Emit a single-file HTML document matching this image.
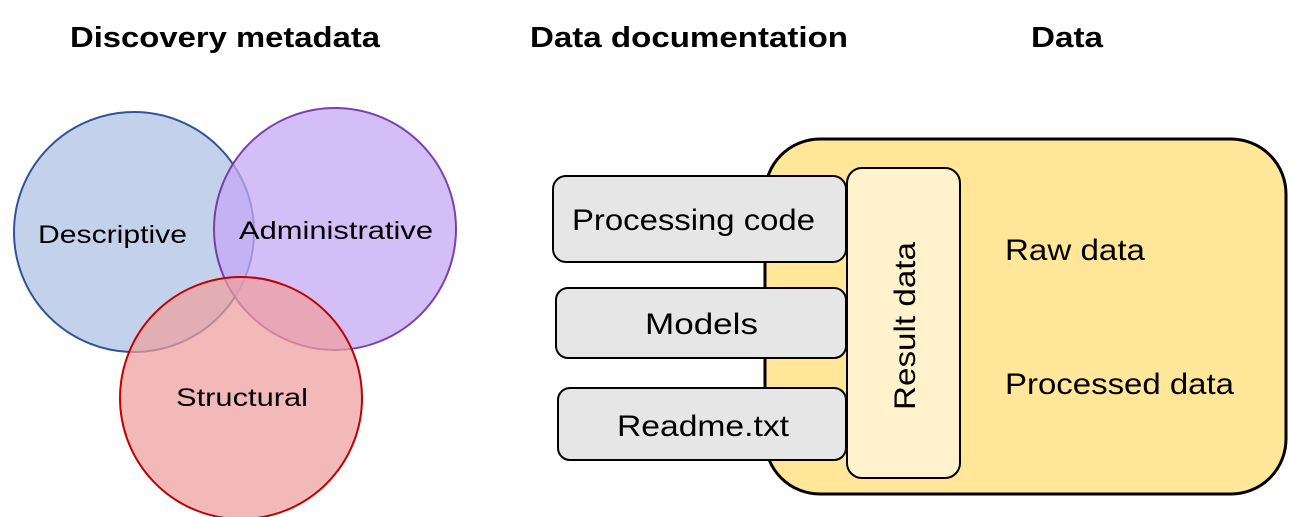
<!DOCTYPE html>
<html><head><style>html,body{margin:0;padding:0;background:#fff;width:1289px;height:517px;overflow:hidden}</style></head>
<body>
<svg width="1289" height="517" viewBox="0 0 1289 517" xmlns="http://www.w3.org/2000/svg" font-family="Liberation Sans, sans-serif">
<text x="70" y="47" font-size="29" font-weight="bold" textLength="310" lengthAdjust="spacingAndGlyphs">Discovery metadata</text>
<text x="530" y="47" font-size="29" font-weight="bold" textLength="318" lengthAdjust="spacingAndGlyphs">Data documentation</text>
<text x="1031" y="47" font-size="29" font-weight="bold" textLength="72" lengthAdjust="spacingAndGlyphs">Data</text>

<circle cx="134" cy="232" r="120" fill="#c3d2ea" stroke="#2f5597" stroke-width="2"/>
<circle cx="335" cy="229" r="121" fill="#c4a8f4" fill-opacity="0.75" stroke="#7030a0" stroke-width="2" stroke-opacity="0.9"/>
<circle cx="241" cy="398" r="121" fill="#ee9e9e" fill-opacity="0.72" stroke="#c00000" stroke-width="2"/>
<text x="38" y="243" font-size="25" textLength="149" lengthAdjust="spacingAndGlyphs">Descriptive</text>
<text x="239" y="239" font-size="25" textLength="194" lengthAdjust="spacingAndGlyphs">Administrative</text>
<text x="176" y="406" font-size="25" textLength="132" lengthAdjust="spacingAndGlyphs">Structural</text>

<rect x="765" y="139" width="521" height="355" rx="55" fill="#ffe699" stroke="#000" stroke-width="3"/>
<rect x="553" y="176" width="293" height="86" rx="13" fill="#e7e6e6" stroke="#000" stroke-width="2"/>
<rect x="556" y="288" width="290" height="70" rx="12" fill="#e7e6e6" stroke="#000" stroke-width="2"/>
<rect x="558" y="388" width="288" height="72" rx="12" fill="#e7e6e6" stroke="#000" stroke-width="2"/>
<rect x="847" y="168" width="113" height="310" rx="15" fill="#fff2cc" stroke="#000" stroke-width="2"/>
<text x="572" y="230" font-size="30" textLength="243" lengthAdjust="spacingAndGlyphs">Processing code</text>
<text x="645" y="334" font-size="30" textLength="113" lengthAdjust="spacingAndGlyphs">Models</text>
<text x="617" y="436" font-size="30" textLength="172" lengthAdjust="spacingAndGlyphs">Readme.txt</text>
<text transform="translate(915,410) rotate(-90)" font-size="30" textLength="168" lengthAdjust="spacingAndGlyphs">Result data</text>
<text x="1005" y="260" font-size="30" textLength="140" lengthAdjust="spacingAndGlyphs">Raw data</text>
<text x="1005" y="394" font-size="30" textLength="229" lengthAdjust="spacingAndGlyphs">Processed data</text>
</svg>
</body></html>
